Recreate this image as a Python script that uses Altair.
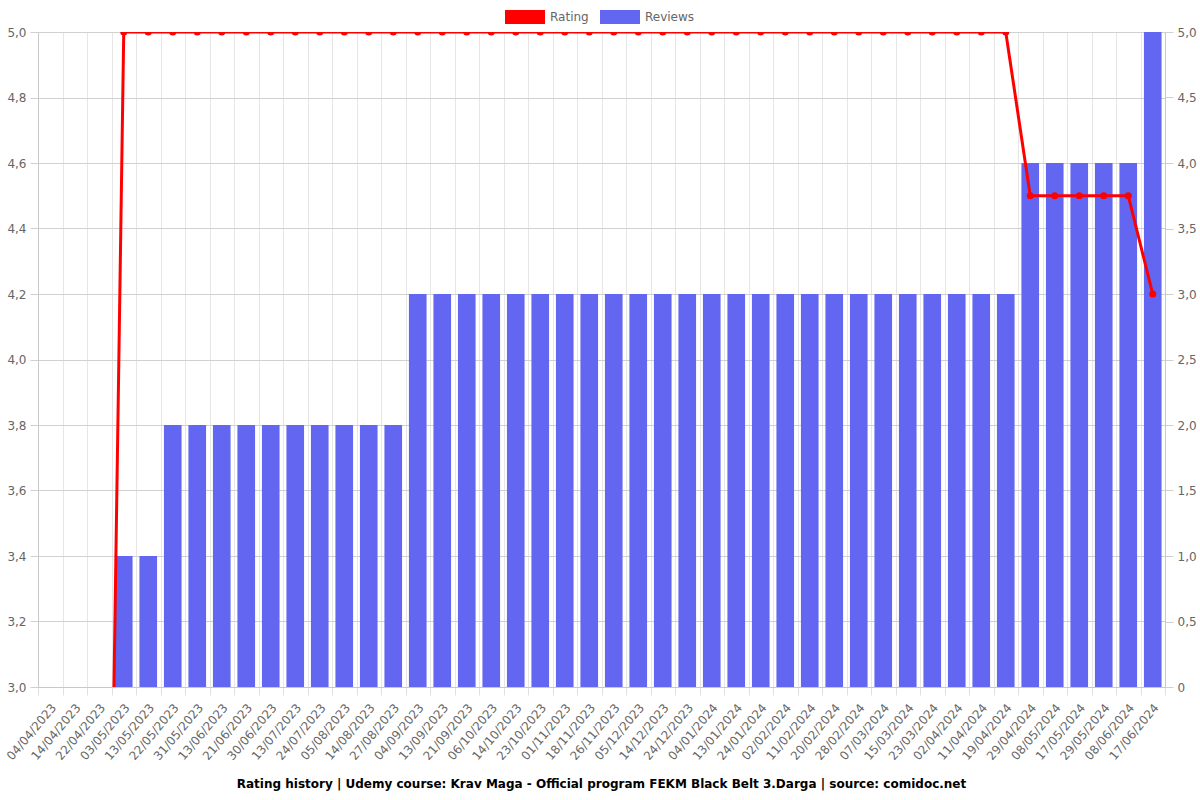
import altair as alt
import pandas as pd

dates = ["04/04/2023", "14/04/2023", "22/04/2023", "03/05/2023", "13/05/2023", "22/05/2023",
         "31/05/2023", "13/06/2023", "21/06/2023", "30/06/2023", "13/07/2023", "24/07/2023",
         "05/08/2023", "14/08/2023", "27/08/2023", "04/09/2023", "13/09/2023", "21/09/2023",
         "06/10/2023", "14/10/2023", "23/10/2023", "01/11/2023", "18/11/2023", "26/11/2023",
         "05/12/2023", "14/12/2023", "24/12/2023", "04/01/2024", "13/01/2024", "24/01/2024",
         "02/02/2024", "11/02/2024", "20/02/2024", "28/02/2024", "07/03/2024", "15/03/2024",
         "23/03/2024", "02/04/2024", "11/04/2024", "19/04/2024", "29/04/2024", "08/05/2024",
         "17/05/2024", "29/05/2024", "08/06/2024", "17/06/2024"]

reviews = [0, 0, 0, 1, 1, 2,
           2, 2, 2, 2, 2, 2,
           2, 2, 2, 3, 3, 3,
           3, 3, 3, 3, 3, 3,
           3, 3, 3, 3, 3, 3,
           3, 3, 3, 3, 3, 3,
           3, 3, 3, 3, 4, 4,
           4, 4, 4, 5]

rating = [0, 0, 0, 5.0, 5.0, 5.0,
          5.0, 5.0, 5.0, 5.0, 5.0, 5.0,
          5.0, 5.0, 5.0, 5.0, 5.0, 5.0,
          5.0, 5.0, 5.0, 5.0, 5.0, 5.0,
          5.0, 5.0, 5.0, 5.0, 5.0, 5.0,
          5.0, 5.0, 5.0, 5.0, 5.0, 5.0,
          5.0, 5.0, 5.0, 5.0, 4.5, 4.5,
          4.5, 4.5, 4.5, 4.2]

df = pd.DataFrame({"date": dates, "reviews": reviews, "rating": rating})

FONT = "DejaVu Sans"

color_scale = alt.Scale(domain=["Rating", "Reviews"], range=["#FF0000", "#6366F1"])
legend = alt.Legend(
    orient="none", legendX=467, legendY=-35, direction="horizontal", title=None,
    symbolType="M-1,-0.35H1V0.35H-1Z", symbolSize=1600, symbolOpacity=1,
    symbolStrokeWidth=0, labelFontSize=12, labelColor="#666", labelFont=FONT,
    columnPadding=11, labelOffset=5,
)

x = alt.X(
    "date:N", sort=None,
    scale=alt.Scale(paddingInner=0, paddingOuter=0),
    axis=alt.Axis(
        title=None, labelAngle=-50, tickBand="extent", grid=True, gridColor="#e6e6e6",
        tickSize=8, tickColor="#e0e0e0", domainColor="#c8c8c8", labelFontSize=12,
        labelColor="#666", labelFont=FONT, labelPadding=10, labelOffset=3, labelOverlap=False,
    ),
)

base = alt.Chart(df)

bars = base.transform_calculate(series="'Reviews'").mark_bar(
    width=alt.RelativeBandSize(0.72)
).encode(
    x=x,
    y=alt.Y(
        "reviews:Q",
        scale=alt.Scale(domain=[0, 5], nice=False, zero=True),
        axis=alt.Axis(
            orient="right", title=None, values=[0, 0.5, 1, 1.5, 2, 2.5, 3, 3.5, 4, 4.5, 5],
            labelExpr="datum.value == 0 ? '0' : replace(format(datum.value, '.1f'), '.', ',')",
            grid=False, tickSize=8, tickColor="#d0d0d0", domainColor="#c8c8c8",
            labelFontSize=12, labelColor="#666", labelFont=FONT, labelPadding=4,
        ),
    ),
    color=alt.Color("series:N", scale=color_scale, legend=legend),
)

rating_y = alt.Y(
    "rating:Q",
    scale=alt.Scale(domain=[3, 5], nice=False, zero=False),
    axis=alt.Axis(
        orient="left", title=None, values=[3.0, 3.2, 3.4, 3.6, 3.8, 4.0, 4.2, 4.4, 4.6, 4.8, 5.0],
        labelExpr="replace(format(datum.value, '.1f'), '.', ',')",
        grid=True, gridColor="#d0d0d0", tickSize=8, tickColor="#d0d0d0", domainColor="#c8c8c8",
        labelFontSize=12, labelColor="#666", labelFont=FONT, labelPadding=4,
    ),
)

line_base = base.transform_calculate(series="'Rating'")
line = line_base.mark_line(strokeWidth=3, clip=True).encode(
    x=x, y=rating_y, color=alt.Color("series:N", scale=color_scale, legend=legend)
)
points = line_base.mark_circle(size=50, opacity=1, clip=True).encode(
    x=x, y=rating_y, color=alt.Color("series:N", scale=color_scale, legend=legend)
)

rating_layer = alt.layer(line, points)

chart = alt.layer(bars, rating_layer).resolve_scale(y="independent").properties(
    width=1127, height=655,
    autosize=alt.AutoSizeParams(type="none"),
    padding={"left": 38, "top": 32, "right": 35, "bottom": 113},
    title=alt.TitleParams(
        "Rating history | Udemy course: Krav Maga - Official program FEKM Black Belt 3.Darga | source: comidoc.net",
        orient="bottom", anchor="middle", fontSize=12, fontWeight="bold", color="#000",
        font=FONT, offset=17,
    ),
).configure_view(stroke=None).configure(background="white")

chart.save("out.html", embed_options={"renderer": "svg", "actions": False})
